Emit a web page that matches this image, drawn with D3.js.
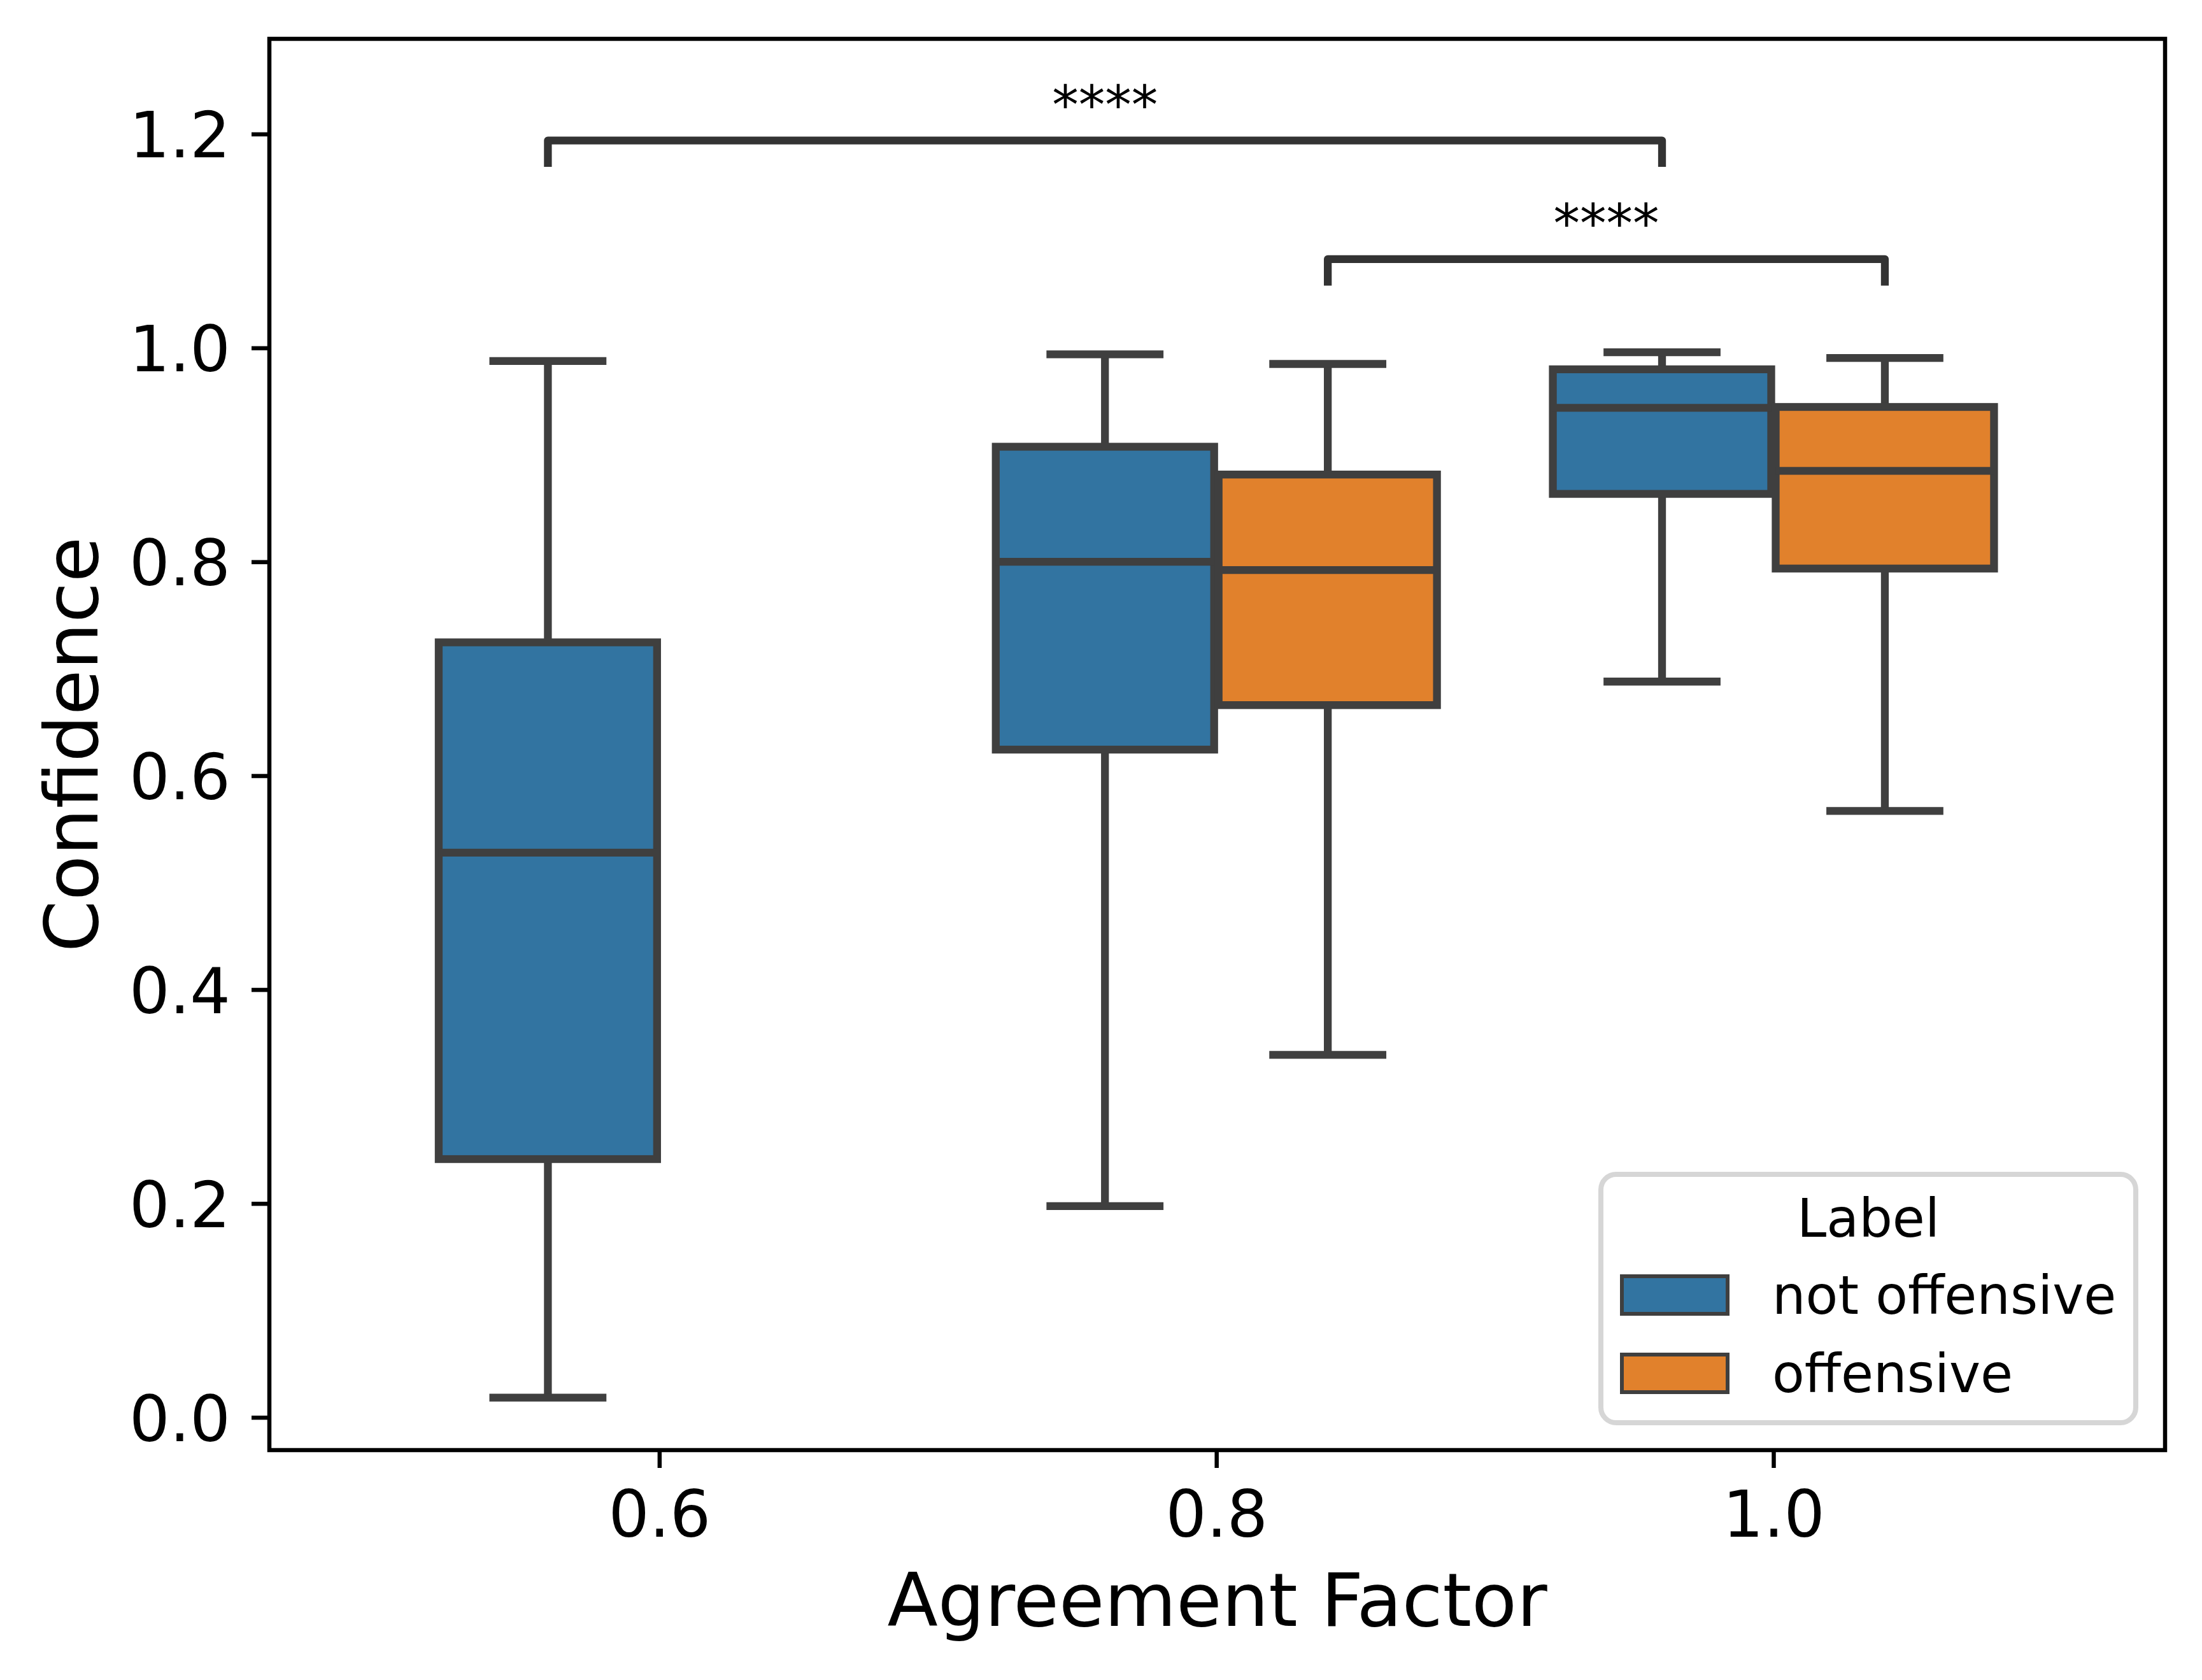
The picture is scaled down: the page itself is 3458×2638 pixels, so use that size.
<!DOCTYPE html>
<html><head><meta charset="utf-8">
<script src="https://cdn.jsdelivr.net/npm/d3@7/dist/d3.min.js"></script>
<style>
body{margin:0;background:#fff}
svg{display:block}
text{font-family:"DejaVu Sans",sans-serif;fill:#000}
</style>
</head><body>
<svg id="chart" width="3458" height="2638"></svg>
<script>
// ---- data ----
const categories = ["0.6", "0.8", "1.0"];
const hues = ["not offensive", "offensive"];
const hueColors = ["#3274a1", "#e1812c"];
// [lower whisker, Q1, median, Q3, upper whisker] per category
const notOffensiveStats = [
  [0.0185, 0.2415, 0.528, 0.7247, 0.9877],
  [0.1975, 0.6244, 0.800, 0.9076, 0.994],
  [0.688, 0.8635, 0.944, 0.980, 0.996]
];
const offensiveStats = [
  null,
  [0.339, 0.666, 0.7923, 0.8816, 0.985],
  [0.567, 0.7937, 0.885, 0.9448, 0.9906]
];
const yTicks = [0.0, 0.2, 0.4, 0.6, 0.8, 1.0, 1.2];
const yTickLabels = ["0.0", "0.2", "0.4", "0.6", "0.8", "1.0", "1.2"];
const annotFrom = [[0, 0], [1, 1]];   // [category index, hue index]
const annotTo = [[2, 0], [2, 1]];
const annotLevel = [1.194, 1.083];
const annotText = ["****", "****"];
const xLabel = "Agreement Factor";
const yLabel = "Confidence";
const legendTitle = "Label";

// ---- layout ----
const L = 423, R = 3400, T = 61, B = 2277;
const svg = d3.select("#chart");
const x = d3.scaleLinear().domain([-0.7, 2.703]).range([L, R]);
const y = d3.scaleLinear().domain([-0.0306, 1.289]).range([B, T]);
const edge = "#3f3f3f";
const lw = 12.3;
const dodge = [-0.2, 0.2];
const boxW = 0.392;
const capW = boxW * 0.5;

const series = [notOffensiveStats, offensiveStats];
const boxes = [];
series.forEach((s, h) => s.forEach((st, c) => {
  if (st) boxes.push({c, h, st, pos: c + dodge[h]});
}));

const g = svg.append("g");
boxes.forEach(b => {
  const [lo, q1, med, q3, hi] = b.st;
  const xl = x(b.pos - boxW / 2), xr = x(b.pos + boxW / 2), xc = x(b.pos);
  // whiskers
  g.append("line").attr("x1", xc).attr("x2", xc).attr("y1", y(q1)).attr("y2", y(lo))
    .attr("stroke", edge).attr("stroke-width", lw);
  g.append("line").attr("x1", xc).attr("x2", xc).attr("y1", y(q3)).attr("y2", y(hi))
    .attr("stroke", edge).attr("stroke-width", lw);
  // caps
  [lo, hi].forEach(v => g.append("line")
    .attr("x1", x(b.pos - capW / 2)).attr("x2", x(b.pos + capW / 2))
    .attr("y1", y(v)).attr("y2", y(v))
    .attr("stroke", edge).attr("stroke-width", lw).attr("stroke-linecap", "square"));
  // box
  g.append("rect").attr("x", xl).attr("y", y(q3)).attr("width", xr - xl).attr("height", y(q1) - y(q3))
    .attr("fill", hueColors[b.h]).attr("stroke", edge).attr("stroke-width", lw)
    .attr("stroke-linejoin", "miter");
  // median
  g.append("line").attr("x1", xl).attr("x2", xr).attr("y1", y(med)).attr("y2", y(med))
    .attr("stroke", edge).attr("stroke-width", lw);
});

// ---- annotations ----
const tipPx = 41.5;
annotLevel.forEach((lev, i) => {
  const x1 = x(annotFrom[i][0] + dodge[annotFrom[i][1]]);
  const x2 = x(annotTo[i][0] + dodge[annotTo[i][1]]);
  const yy = y(lev);
  svg.append("path")
    .attr("d", d3.line()([[x1, yy + tipPx], [x1, yy], [x2, yy], [x2, yy + tipPx]]))
    .attr("fill", "none").attr("stroke", "#333333").attr("stroke-width", lw)
    .attr("stroke-linejoin", "round");
  svg.append("text").attr("x", (x1 + x2) / 2).attr("y", yy - 27)
    .attr("text-anchor", "middle").style("font-size", "83px").text(annotText[i]);
});

// ---- axes ----
const yAxis = d3.axisLeft(y).tickValues(yTicks).tickFormat((d, i) => yTickLabels[i])
  .tickSize(28).tickPadding(33);
const ya = svg.append("g").attr("transform", `translate(${L},0)`).call(yAxis);
ya.select(".domain").remove();
ya.selectAll(".tick line").attr("stroke", "#000").attr("stroke-width", 6.5);
ya.selectAll(".tick text").attr("dy", "0.365em").style("font-size", "100px")
  .style("font-family", "'DejaVu Sans'").attr("fill", "#000");

const xAxis = d3.axisBottom(x).tickValues([0, 1, 2]).tickFormat((d, i) => categories[i])
  .tickSize(28);
const xa = svg.append("g").attr("transform", `translate(0,${B})`).call(xAxis);
xa.select(".domain").remove();
xa.selectAll(".tick line").attr("stroke", "#000").attr("stroke-width", 6.5);
xa.selectAll(".tick text").attr("y", 136).attr("dy", 0).style("font-size", "101px")
  .style("font-family", "'DejaVu Sans'").attr("fill", "#000");

svg.append("rect").attr("x", L).attr("y", T).attr("width", R - L).attr("height", B - T)
  .attr("fill", "none").attr("stroke", "#000").attr("stroke-width", 6.5);

svg.append("text").attr("x", (L + R) / 2).attr("y", 2553).attr("text-anchor", "middle")
  .style("font-size", "116px").text(xLabel);
svg.append("text").attr("transform", `translate(153,${(T + B) / 2}) rotate(-90)`)
  .attr("text-anchor", "middle").style("font-size", "116px").text(yLabel);

// ---- legend ----
const lg = svg.append("g");
lg.append("rect").attr("x", 2514).attr("y", 1844).attr("width", 840).attr("height", 390)
  .attr("rx", 24).attr("fill", "#fff").attr("fill-opacity", 0.8)
  .attr("stroke", "#d6d6d6").attr("stroke-width", 8);
lg.append("text").attr("x", 2934).attr("y", 1942).attr("text-anchor", "middle")
  .style("font-size", "83px").text(legendTitle);
hues.forEach((h, i) => {
  const py = 2004 + i * 123;
  lg.append("rect").attr("x", 2547).attr("y", py).attr("width", 166).attr("height", 59)
    .attr("fill", hueColors[i]).attr("stroke", edge).attr("stroke-width", 6);
  lg.append("text").attr("x", 2783).attr("y", 2063 + i * 123).style("font-size", "83px").text(h);
});
</script>
</body></html>
